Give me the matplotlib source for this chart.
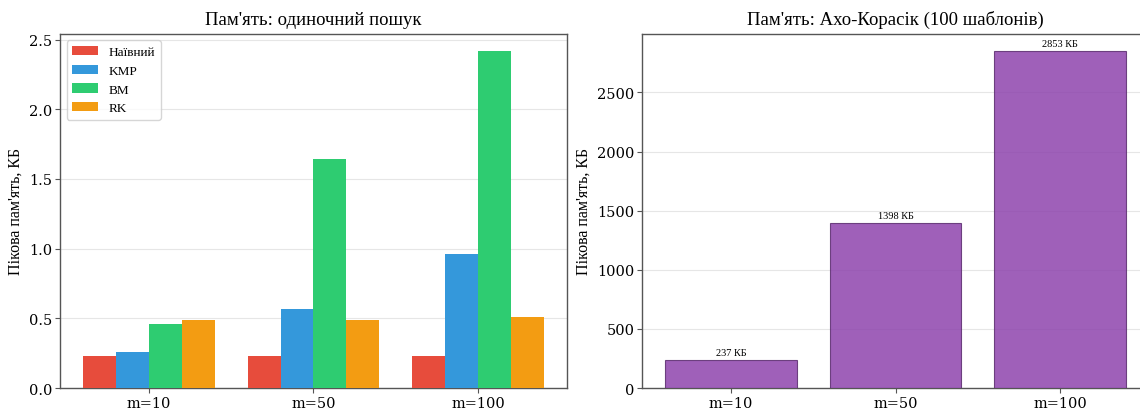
import numpy as np
import matplotlib
matplotlib.use("Agg")
import matplotlib.pyplot as plt

plt.rcParams['font.family'] = ['DejaVu Serif']

categories = ["m=10", "m=50", "m=100"]
algorithms = ["Наївний", "KMP", "BM", "RK"]
naive_kb = [0.23, 0.23, 0.23]
kmp_kb = [0.26, 0.57, 0.96]
bm_kb = [0.46, 1.64, 2.42]
rk_kb = [0.49, 0.49, 0.51]
ac_kb = [237, 1398, 2853]

colors = ["#e74c3c", "#3498db", "#2ecc71", "#f39c12"]
ac_color = "#8e44ad"

fig, (ax1, ax2) = plt.subplots(1, 2, figsize=(11.4, 4.1), dpi=100)
fig.subplots_adjust(left=0.0526, right=1.008, top=0.915, bottom=0.051, wspace=0.148)

x = np.arange(len(categories))
width = 0.2
series = [naive_kb, kmp_kb, bm_kb, rk_kb]
for i, (name, vals) in enumerate(zip(algorithms, series)):
    ax1.bar(x + (i - 1.5) * width, vals, width, label=name, color=colors[i], zorder=3)

ax1.set_xticks(x)
ax1.set_xticklabels(categories)
ax1.set_ylabel("Пікова пам'ять, КБ", fontsize=11.5, family="Liberation Serif")
ax1.set_title("Пам'ять: одиночний пошук", fontsize=13.5, family="Liberation Serif", pad=7)
ax1.legend(loc="upper left", prop={"family": "Liberation Serif", "size": 9.5})

bars = ax2.bar(x, ac_kb, 0.8, color=ac_color, alpha=0.85, edgecolor="#5b2c6f", linewidth=0.8, zorder=3)
for b, v in zip(bars, ac_kb):
    ax2.text(b.get_x() + b.get_width() / 2, v + 25, f"{v} КБ", ha="center", va="bottom",
             fontsize=7.5, family="Liberation Serif")
ax2.set_xticks(x)
ax2.set_xticklabels(categories)
ax2.set_ylabel("Пікова пам'ять, КБ", fontsize=11.5, family="Liberation Serif")
ax2.set_title("Пам'ять: Ахо-Корасік (100 шаблонів)", fontsize=13.5, family="Liberation Serif", pad=7)

for ax in (ax1, ax2):
    ax.grid(axis="y", color="#e6e6e6", linewidth=0.8, zorder=0)
    ax.set_axisbelow(True)
    for s in ax.spines.values():
        s.set_color("#555555")
        s.set_linewidth(1.0)
    ax.tick_params(labelsize=10.5, color="#555555", length=3.5, pad=2)

fig.savefig("out.png", dpi=100)
